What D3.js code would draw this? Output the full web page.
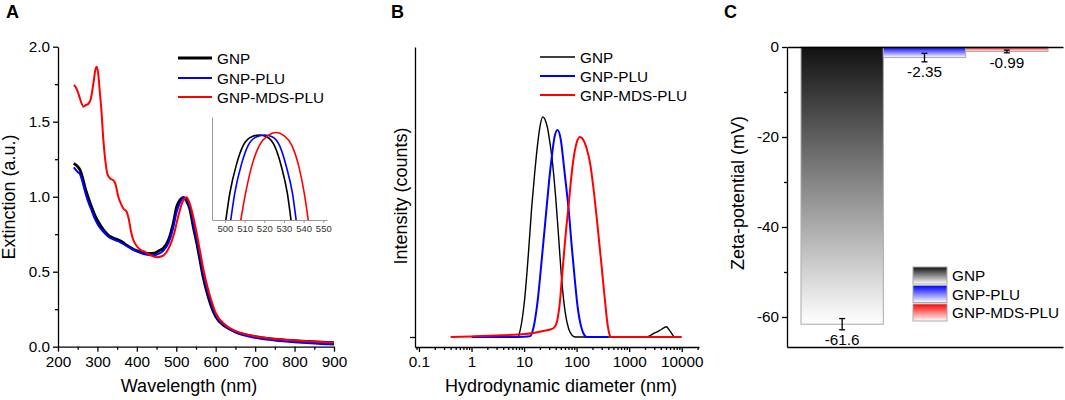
<!DOCTYPE html>
<html>
<head>
<meta charset="utf-8">
<script src="https://cdn.jsdelivr.net/npm/d3@7"></script>
<style>
body { margin: 0; background: #fff; }
</style>
</head>
<body>
<svg id="fig" width="1065" height="400"></svg>
<script>
const FONT = '"Liberation Sans", Arial, sans-serif';

// series shared by the three panels
const seriesNames = ['GNP', 'GNP-PLU', 'GNP-MDS-PLU'];
const seriesColors = ['#000000', '#0000ff', '#ff0000'];

// Panel A - extinction spectra (wavelength nm, extinction a.u.)
const wlGNP = [240,250,256,262,268,276,285,293,302,315,327,340,355,362,375,395,415,430,445,456,467,480,492,501,510,518,525,535,543,552,560,568,581,600,625,650,700,750,800,900];
const extGNP = [1.222,1.20,1.178,1.13,1.067,1.0,0.933,0.88,0.833,0.78,0.745,0.725,0.71,0.70,0.675,0.645,0.628,0.622,0.624,0.64,0.656,0.711,0.82,0.933,0.98,0.996,0.975,0.911,0.80,0.69,0.578,0.467,0.333,0.20,0.133,0.10,0.067,0.05,0.04,0.027];
const wlPLU = [240,250,256,262,268,276,285,293,302,315,327,340,355,362,375,395,415,430,445,456,467,480,492,501,510,520,527,537,545,554,562,570,583,602,627,650,700,750,800,900];
const extPLU = [1.196,1.165,1.15,1.10,1.04,0.97,0.91,0.855,0.81,0.765,0.735,0.715,0.70,0.69,0.67,0.64,0.62,0.612,0.61,0.62,0.64,0.69,0.79,0.90,0.965,0.995,0.98,0.911,0.80,0.69,0.578,0.467,0.333,0.20,0.133,0.095,0.06,0.042,0.03,0.015];
const wlMDS = [240,245,250,255,260,265,270,277,283,290,295,298,302,306,310,315,320,326,333,340,345,353,360,366,374,380,385,390,400,410,420,435,450,465,475,485,495,505,515,520,526,532,540,550,560,570,580,590,600,625,650,700,750,800,900];
const extMDS = [1.745,1.73,1.70,1.66,1.62,1.60,1.61,1.62,1.65,1.76,1.85,1.867,1.82,1.70,1.58,1.38,1.24,1.145,1.12,1.11,1.09,1.00,0.95,0.92,0.90,0.845,0.77,0.72,0.67,0.645,0.633,0.61,0.597,0.605,0.63,0.68,0.76,0.87,0.96,0.985,0.997,0.97,0.90,0.78,0.64,0.50,0.39,0.30,0.225,0.145,0.105,0.07,0.052,0.042,0.028];

// inset - top of the plasmon band
const insetWlGNP = [500,502.5,506,509.3,513.6,517.5,521.2,525.4,528.8,531.7,534];
const insetExtGNP = [0.925,0.951,0.974,0.988,0.9947,0.996,0.9947,0.987,0.971,0.951,0.925];
const insetWlPLU = [502.5,505,508.5,511.8,516.2,520.3,524,528,531.3,534.3,536.6];
const insetExtPLU = [0.925,0.951,0.974,0.988,0.9947,0.996,0.9947,0.987,0.971,0.951,0.925];
const insetWlMDS = [507.5,510.5,514,517.5,521.8,526,530,534,537.5,540.3,542.8];
const insetExtMDS = [0.925,0.951,0.974,0.988,0.9955,0.998,0.9955,0.988,0.972,0.951,0.925];

// Panel B - DLS size distribution (diameter nm, intensity)
const dGNP = [7.8,9,10.5,12,14,16,18.5,20.5,22.7,25,28,31,33.7,40,46,52,60,70,80,93,2100,3000,4000,5100,6000,7100];
const iGNP = [0,5,15,28,45,57,68,73.5,75.9,75,72,67,62.2,48,33,19.7,9,3,0.8,0,0,1.3,2.5,3.55,2,0];
const dPLU = [1,5,10,13,15,18,22,26,30,33.7,38,43.2,50,58,64,69.8,80,92,105,120,135,156,200,400];
const iPLU = [0,0,0.1,0.3,3,12,28,42,54,62.2,69,71.4,68,58,51,44.8,32,20,10,4,1.2,0,0,0];
const dMDS = [0.4,1,3,8,15,22,30,36,41,45,48,52,57,63,69.8,77,85,100,115,130,155,180,210,251,300,345,390,420,450,10000];
const iMDS = [0,0.2,0.5,0.9,1.4,2,2.5,3,4.5,8,12,19.7,28,37,44.8,53,60,67,69,68.3,65,60,51,38,24,12.8,4,1,0,0];

// Panel C - zeta potential
const zetaMean = [-61.6, -2.35, -0.99];
const zetaErr = [1.25, 0.95, 0.3];
const zetaLabels = ['-61.6', '-2.35', '-0.99'];

const svg = d3.select('#fig');
const defs = svg.append('defs');

function zip(xs, ys) {
    return xs.map((x, i) => [x, ys[i]]);
}

function styleAxis(g, color, width, size) {
    g.attr('font-family', FONT).attr('font-size', size || 15.3);
    g.select('.domain').attr('stroke', color).attr('stroke-width', width);
    g.selectAll('.tick line').attr('stroke', color).attr('stroke-width', width);
    g.selectAll('.tick text').attr('fill', '#000');
}

function panelLetter(x, label) {
    svg.append('text')
        .attr('x', x).attr('y', 18)
        .attr('font-family', FONT).attr('font-size', 18).attr('font-weight', 'bold')
        .text(label);
}

function yTitle(x, y, label) {
    svg.append('text')
        .attr('transform', `translate(${x},${y}) rotate(-90)`)
        .attr('text-anchor', 'middle')
        .attr('font-family', FONT).attr('font-size', 18)
        .text(label);
}

function xTitle(x, y, label) {
    svg.append('text')
        .attr('x', x).attr('y', y)
        .attr('text-anchor', 'middle')
        .attr('font-family', FONT).attr('font-size', 18)
        .text(label);
}

function lineLegend(x1, x2, ys, widths) {
    const g = svg.append('g');
    seriesNames.forEach((name, i) => {
        g.append('line')
            .attr('x1', x1).attr('x2', x2).attr('y1', ys[i]).attr('y2', ys[i])
            .attr('stroke', seriesColors[i]).attr('stroke-width', widths[i]);
        g.append('text')
            .attr('x', x2 + 5).attr('y', ys[i]).attr('dy', '0.36em')
            .attr('font-family', FONT).attr('font-size', 15.3)
            .text(name);
    });
}

// ---------- Panel A ----------
const xA = d3.scaleLinear().domain([200, 900]).range([58, 334]);
const yA = d3.scaleLinear().domain([0, 2]).range([346.7, 46.7]);

const gAx = svg.append('g').attr('transform', 'translate(0,346.7)')
    .call(d3.axisBottom(xA).tickValues(d3.range(200, 901, 100)).tickSize(5).tickSizeOuter(0).tickPadding(4));
styleAxis(gAx, '#000', 1.3);
const gAxm = svg.append('g').attr('transform', 'translate(0,346.7)')
    .call(d3.axisBottom(xA).tickValues(d3.range(250, 900, 100)).tickSize(3).tickFormat(''));
gAxm.select('.domain').remove();
styleAxis(gAxm, '#000', 1.3);

const gAy = svg.append('g').attr('transform', 'translate(58,0)')
    .call(d3.axisLeft(yA).tickValues([0, 0.5, 1, 1.5, 2]).tickFormat(d3.format('.1f')).tickSize(5).tickSizeOuter(0).tickPadding(3));
styleAxis(gAy, '#000', 1.3);
const gAym = svg.append('g').attr('transform', 'translate(58,0)')
    .call(d3.axisLeft(yA).tickValues([0.25, 0.75, 1.25, 1.75]).tickSize(3).tickFormat(''));
gAym.select('.domain').remove();
styleAxis(gAym, '#000', 1.3);

const lineA = d3.line().x(d => xA(d[0])).y(d => yA(d[1])).curve(d3.curveMonotoneX);
const spectra = [zip(wlGNP, extGNP), zip(wlPLU, extPLU), zip(wlMDS, extMDS)];
[0, 1, 2].forEach(i => {
    svg.append('path')
        .datum(spectra[i])
        .attr('d', lineA)
        .attr('fill', 'none')
        .attr('stroke', seriesColors[i])
        .attr('stroke-width', i === 0 ? 2.8 : 2);
});

// inset
const xI = d3.scaleLinear().domain([493.4, 551.9]).range([212, 327]);
const yI = d3.scaleLinear().domain([0.93, 1.01]).range([220, 117]);
defs.append('clipPath').attr('id', 'insetClip')
    .append('rect').attr('x', 212).attr('y', 117).attr('width', 115).attr('height', 103);

const gIx = svg.append('g').attr('transform', 'translate(0,220)')
    .call(d3.axisBottom(xI).tickValues(d3.range(500, 551, 10)).tickSize(3).tickSizeOuter(0).tickPadding(2));
styleAxis(gIx, '#999', 1, 9.5);
gIx.selectAll('.tick text').attr('fill', '#333');
const gIy = svg.append('g').attr('transform', 'translate(212,0)')
    .call(d3.axisLeft(yI).tickValues([]).tickSizeOuter(0));
styleAxis(gIy, '#999', 1, 9.5);

const lineI = d3.line().x(d => xI(d[0])).y(d => yI(d[1])).curve(d3.curveMonotoneX);
const insetData = [zip(insetWlGNP, insetExtGNP), zip(insetWlPLU, insetExtPLU), zip(insetWlMDS, insetExtMDS)];
const gIn = svg.append('g').attr('clip-path', 'url(#insetClip)');
[0, 1, 2].forEach(i => {
    gIn.append('path')
        .datum(insetData[i])
        .attr('d', lineI)
        .attr('fill', 'none')
        .attr('stroke', seriesColors[i])
        .attr('stroke-width', 1.6);
});

lineLegend(178, 212, [58, 78, 97], [2.8, 2, 2]);
panelLetter(6, 'A');
yTitle(15, 197, 'Extinction (a.u.)');
xTitle(189, 392, 'Wavelength (nm)');

// ---------- Panel B ----------
const xB = d3.scaleLog().domain([0.084, 21300]).range([415, 699]);
const yB = d3.scaleLinear().domain([-3.45, 100]).range([347, 47]);

const majorB = [0.1, 1, 10, 100, 1000, 10000];
const minorB = [];
for (let k = -2; k <= 4; k++) {
    for (let m = 2; m <= 9; m++) {
        const v = +(m * Math.pow(10, k)).toPrecision(3);
        if (v >= 0.084 && v <= 21300) minorB.push(v);
    }
}

const gBx = svg.append('g').attr('transform', 'translate(0,347)')
    .call(d3.axisBottom(xB).tickValues(majorB).tickFormat(d => String(d)).tickSize(5).tickSizeOuter(0).tickPadding(4));
styleAxis(gBx, '#000', 1.3);
const gBxm = svg.append('g').attr('transform', 'translate(0,347)')
    .call(d3.axisBottom(xB).tickValues(minorB).tickSize(3).tickFormat(''));
gBxm.select('.domain').remove();
styleAxis(gBxm, '#000', 1.3);

const gBy = svg.append('g').attr('transform', 'translate(415,0)')
    .call(d3.axisLeft(yB).tickValues([0]).tickFormat('').tickSize(5).tickSizeOuter(0));
styleAxis(gBy, '#000', 1.3);

const lineB = d3.line().x(d => xB(d[0])).y(d => yB(d[1])).curve(d3.curveMonotoneX);
const dls = [zip(dGNP, iGNP), zip(dPLU, iPLU), zip(dMDS, iMDS)];
[0, 1, 2].forEach(i => {
    svg.append('path')
        .datum(dls[i])
        .attr('d', lineB)
        .attr('fill', 'none')
        .attr('stroke', seriesColors[i])
        .attr('stroke-width', i === 0 ? 1.4 : 2);
});

lineLegend(540, 575, [57, 76, 95], [1.4, 2, 2]);
panelLetter(391, 'B');
yTitle(407, 196, 'Intensity (counts)');
xTitle(561, 392, 'Hydrodynamic diameter (nm)');

// ---------- Panel C ----------
const xC = d3.scaleBand().domain(seriesNames).range([801, 1048]).padding(0);
const yC = d3.scaleLinear().domain([-66.67, 0]).range([347, 47]);
const frameC = d3.scaleLinear().range([787, 1063]);

seriesColors.forEach((c, i) => {
    const grad = defs.append('linearGradient')
        .attr('id', 'grad' + i)
        .attr('x1', 0).attr('y1', 0).attr('x2', 0).attr('y2', 1);
    grad.append('stop').attr('offset', 0).attr('stop-color', i === 0 ? '#111' : c);
    grad.append('stop').attr('offset', 1).attr('stop-color', '#fff');
});

svg.append('g').selectAll('rect')
    .data(seriesNames)
    .enter()
    .append('rect')
    .attr('x', d => xC(d))
    .attr('y', yC(0))
    .attr('width', xC.bandwidth())
    .attr('height', (d, i) => yC(zetaMean[i]) - yC(0))
    .attr('fill', (d, i) => `url(#grad${i})`)
    .attr('stroke', '#aaa')
    .attr('stroke-width', 1);

// error bars
const gErr = svg.append('g').attr('stroke', '#000').attr('stroke-width', 1.3);
seriesNames.forEach((name, i) => {
    const cx = xC(name) + xC.bandwidth() / 2;
    const y1 = yC(zetaMean[i] + zetaErr[i]);
    const y2 = yC(zetaMean[i] - zetaErr[i]);
    gErr.append('line').attr('x1', cx).attr('x2', cx).attr('y1', y1).attr('y2', y2);
    gErr.append('line').attr('x1', cx - 3).attr('x2', cx + 3).attr('y1', y1).attr('y2', y1);
    gErr.append('line').attr('x1', cx - 3).attr('x2', cx + 3).attr('y1', y2).attr('y2', y2);
    svg.append('text')
        .attr('x', cx).attr('y', y2 + 15)
        .attr('text-anchor', 'middle')
        .attr('font-family', FONT).attr('font-size', 15.3)
        .text(zetaLabels[i]);
});

const gCy = svg.append('g').attr('transform', 'translate(787,0)')
    .call(d3.axisLeft(yC).tickValues([0, -20, -40, -60]).tickFormat(d => String(d)).tickSize(5).tickSizeOuter(0).tickPadding(3));
styleAxis(gCy, '#000', 1.3);
const gCym = svg.append('g').attr('transform', 'translate(787,0)')
    .call(d3.axisLeft(yC).tickValues([-10, -30, -50]).tickSize(3).tickFormat(''));
gCym.select('.domain').remove();
styleAxis(gCym, '#000', 1.3);

const gCtop = svg.append('g').attr('transform', `translate(0,${yC(0)})`)
    .call(d3.axisTop(frameC).tickValues([]).tickSizeOuter(0));
styleAxis(gCtop, '#000', 1.3);
const gCbot = svg.append('g').attr('transform', 'translate(0,347)')
    .call(d3.axisBottom(frameC).tickValues([]).tickSizeOuter(0));
styleAxis(gCbot, '#000', 1.3);

// legend C
const legC = svg.append('g');
seriesNames.forEach((name, i) => {
    const y = 267 + i * 18.5;
    legC.append('rect')
        .attr('x', 913).attr('y', y).attr('width', 34).attr('height', 17)
        .attr('fill', `url(#grad${i})`)
        .attr('stroke', '#aaa').attr('stroke-width', 1);
    legC.append('text')
        .attr('x', 952).attr('y', y + 8.5).attr('dy', '0.36em')
        .attr('font-family', FONT).attr('font-size', 15.3)
        .text(name);
});

panelLetter(724, 'C');
yTitle(744, 193, 'Zeta-potential (mV)');
</script>
</body>
</html>
